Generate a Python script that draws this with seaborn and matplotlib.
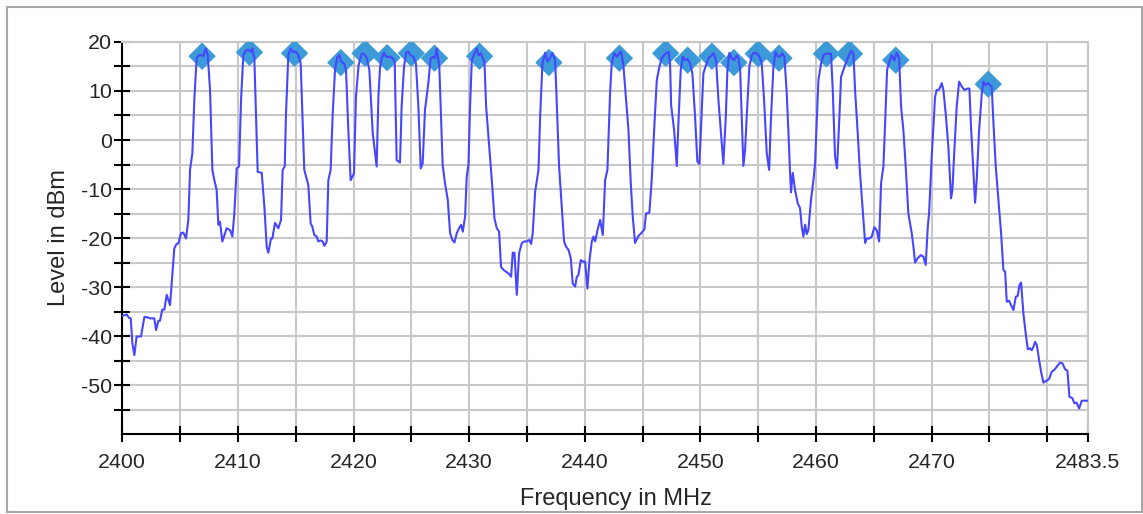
import matplotlib
matplotlib.use("Agg")
import matplotlib.pyplot as plt
import seaborn as sns
import pandas as pd
from matplotlib.ticker import FixedLocator
from matplotlib.patches import Rectangle

# Spectrum trace: frequency (MHz) and measured level (dBm)
freq_mhz = [
    2400.0, 2400.38, 2400.58, 2400.73, 2400.87, 2401.04, 2401.24, 2401.62, 2401.91, 2402.2,
    2402.4, 2402.77, 2402.92, 2403.12, 2403.26, 2403.46, 2403.64, 2403.84, 2404.13, 2404.5,
    2404.7, 2404.85, 2405.08, 2405.28, 2405.51, 2405.71, 2405.86, 2406.06, 2406.23, 2406.43,
    2406.64, 2406.81, 2407.01, 2407.21, 2407.39, 2407.59, 2407.79, 2407.96, 2408.16, 2408.31,
    2408.45, 2408.65, 2409.03, 2409.32, 2409.52, 2409.69, 2409.89, 2410.1, 2410.27, 2410.47,
    2410.67, 2410.9, 2411.13, 2411.25, 2411.42, 2411.71, 2412.06, 2412.29, 2412.49, 2412.63,
    2412.86, 2412.98, 2413.21, 2413.5, 2413.73, 2413.87, 2414.05, 2414.16, 2414.36, 2414.56,
    2414.74, 2415.02, 2415.23, 2415.43, 2415.6, 2415.74, 2416.09, 2416.29, 2416.44, 2416.61,
    2416.81, 2416.96, 2417.16, 2417.33, 2417.48, 2417.68, 2417.82, 2418.02, 2418.2, 2418.4,
    2418.6, 2418.77, 2418.92, 2419.18, 2419.35, 2419.55, 2419.75, 2420.04, 2420.21, 2420.44,
    2420.7, 2420.91, 2421.14, 2421.37, 2421.66, 2421.83, 2422.0, 2422.15, 2422.29, 2422.43,
    2422.64, 2422.81, 2423.1, 2423.39, 2423.56, 2423.73, 2424.02, 2424.16, 2424.37, 2424.54,
    2424.74, 2424.94, 2425.17, 2425.4, 2425.61, 2425.81, 2425.98, 2426.18, 2426.47, 2426.67,
    2426.9, 2427.05, 2427.19, 2427.42, 2427.71, 2427.91, 2428.15, 2428.35, 2428.55, 2428.73,
    2428.93, 2429.13, 2429.3, 2429.45, 2429.65, 2429.79, 2429.94, 2430.08, 2430.23, 2430.46,
    2430.66, 2430.8, 2431.01, 2431.18, 2431.32, 2431.47, 2431.67, 2431.96, 2432.19, 2432.39,
    2432.59, 2432.76, 2432.97, 2433.2, 2433.4, 2433.63, 2433.77, 2433.92, 2434.12, 2434.32,
    2434.55, 2434.75, 2434.98, 2435.19, 2435.36, 2435.5, 2435.71, 2436.0, 2436.14, 2436.34,
    2436.57, 2436.77, 2437.0, 2437.2, 2437.44, 2437.64, 2437.78, 2438.01, 2438.21, 2438.39,
    2438.59, 2438.79, 2438.96, 2439.17, 2439.31, 2439.45, 2439.66, 2439.83, 2440.03, 2440.23,
    2440.41, 2440.61, 2440.75, 2440.9, 2441.1, 2441.33, 2441.56, 2441.76, 2441.96, 2442.19,
    2442.33, 2442.54, 2442.77, 2443.0, 2443.14, 2443.34, 2443.57, 2443.78, 2443.98, 2444.15,
    2444.35, 2444.64, 2444.93, 2445.16, 2445.3, 2445.59, 2445.79, 2446.0, 2446.23, 2446.46,
    2446.66, 2446.86, 2447.03, 2447.24, 2447.38, 2447.47, 2447.73, 2447.96, 2448.1, 2448.3,
    2448.48, 2448.68, 2448.88, 2449.11, 2449.31, 2449.54, 2449.74, 2449.92, 2450.12, 2450.26,
    2450.49, 2450.7, 2450.9, 2451.13, 2451.36, 2451.56, 2451.76, 2451.99, 2452.2, 2452.34,
    2452.51, 2452.71, 2452.92, 2453.15, 2453.29, 2453.44, 2453.58, 2453.72, 2453.87, 2454.01,
    2454.24, 2454.45, 2454.65, 2454.88, 2455.11, 2455.31, 2455.51, 2455.74, 2455.95, 2456.09,
    2456.32, 2456.5, 2456.69, 2456.89, 2457.09, 2457.27, 2457.47, 2457.61, 2457.76, 2457.84,
    2457.99, 2458.19, 2458.42, 2458.62, 2458.77, 2458.91, 2459.06, 2459.2, 2459.34, 2459.57,
    2459.78, 2459.92, 2460.06, 2460.21, 2460.44, 2460.64, 2460.84, 2461.07, 2461.3, 2461.45,
    2461.65, 2461.82, 2462.0, 2462.17, 2462.37, 2462.57, 2462.8, 2463.03, 2463.24, 2463.38,
    2463.61, 2463.81, 2463.96, 2464.1, 2464.25, 2464.39, 2464.62, 2464.82, 2465.05, 2465.25,
    2465.46, 2465.63, 2465.83, 2465.98, 2466.15, 2466.35, 2466.55, 2466.78, 2466.98, 2467.19,
    2467.36, 2467.56, 2467.76, 2467.99, 2468.28, 2468.43, 2468.57, 2468.8, 2469.06, 2469.29,
    2469.49, 2469.67, 2469.78, 2470.01, 2470.3, 2470.44, 2470.65, 2470.88, 2471.02, 2471.22,
    2471.45, 2471.68, 2471.8, 2471.97, 2472.17, 2472.38, 2472.61, 2472.84, 2473.1, 2473.27,
    2473.41, 2473.62, 2473.76, 2473.9, 2474.11, 2474.34, 2474.48, 2474.63, 2474.86, 2475.06,
    2475.2, 2475.35, 2475.55, 2475.78, 2476.01, 2476.21, 2476.36, 2476.5, 2476.7, 2476.87,
    2477.08, 2477.28, 2477.45, 2477.6, 2477.74, 2477.94, 2478.14, 2478.32, 2478.52, 2478.66,
    2478.81, 2478.95, 2479.1, 2479.3, 2479.47, 2479.67, 2479.96, 2480.16, 2480.39, 2480.62,
    2480.82, 2481.11, 2481.32, 2481.55, 2481.75, 2481.92, 2482.18, 2482.35, 2482.55, 2482.76,
    2482.99, 2483.22, 2483.5,
]
level_dbm = [
    -35.9, -35.6, -36.3, -36.4, -41.5, -43.9, -40.1, -40.1, -36.1, -36.2,
    -36.4, -36.4, -38.8, -36.9, -36.9, -34.6, -34.6, -31.6, -33.7, -22.1,
    -21.2, -21.1, -19.0, -18.9, -20.1, -16.3, -6.1, -2.7, 8.2, 16.7,
    17.3, 17.3, 17.1, 18.7, 17.3, 10.2, -6.1, -8.2, -10.2, -17.3,
    -16.7, -20.7, -18.0, -18.4, -19.7, -15.0, -5.8, -5.4, 8.2, 17.3,
    18.2, 18.4, 18.0, 18.7, 16.7, -6.5, -6.7, -13.6, -21.8, -23.0,
    -20.1, -20.1, -16.9, -18.0, -16.3, -6.1, -5.4, 5.4, 17.3, 18.7,
    18.0, 18.0, 17.3, 15.6, 3.4, -6.1, -9.2, -17.0, -17.7, -19.4,
    -19.7, -20.7, -20.5, -20.7, -21.6, -20.7, -8.2, -6.1, 5.4, 14.3,
    17.0, 17.3, 16.0, 15.6, 14.3, 2.0, -8.2, -6.8, 8.8, 15.3,
    17.6, 17.6, 16.7, 14.3, 1.4, -2.0, -5.4, 8.8, 14.7, 16.7,
    17.8, 17.0, 17.0, 16.7, 16.0, -4.1, -4.6, 6.8, 15.0, 17.8,
    18.0, 17.3, 17.0, 15.6, 6.8, -5.8, -4.8, 6.1, 11.6, 16.7,
    17.0, 16.7, 18.7, 15.0, -5.1, -8.8, -12.2, -19.0, -20.4, -20.9,
    -19.0, -18.0, -17.3, -18.7, -15.6, -7.5, -5.1, 6.8, 16.3, 17.7,
    18.7, 17.3, 17.7, 16.7, 16.0, 6.8, 0.7, -8.2, -16.0, -18.0,
    -18.7, -25.9, -26.5, -26.9, -27.2, -27.9, -23.0, -23.0, -31.6, -23.1,
    -21.1, -20.7, -20.7, -20.4, -21.2, -19.0, -10.5, -6.1, 4.8, 15.6,
    17.8, 16.0, 16.7, 17.8, 16.3, 3.4, -5.4, -13.6, -20.7, -21.8,
    -22.4, -24.1, -29.3, -29.9, -27.9, -27.6, -24.5, -24.8, -24.8, -30.3,
    -24.5, -20.7, -19.7, -20.7, -18.4, -16.3, -19.4, -8.2, -6.1, 9.5,
    15.6, 17.7, 17.0, 17.8, 18.0, 15.3, 8.2, 2.0, -8.8, -15.6,
    -21.0, -19.6, -18.9, -18.2, -15.0, -14.8, -8.2, 2.0, 12.2, 15.0,
    16.7, 17.3, 17.7, 18.0, 15.6, 7.1, 2.0, -5.3, 3.4, 14.3,
    17.0, 16.3, 16.5, 15.6, 13.6, 4.8, -4.4, -4.9, 6.1, 13.6,
    15.3, 16.7, 17.1, 17.7, 16.3, 8.2, 2.0, -4.9, 4.8, 14.3,
    17.8, 16.7, 16.3, 17.3, 16.7, 14.3, 4.8, -5.3, -2.0, 4.8,
    15.0, 17.3, 17.8, 17.7, 17.0, 15.6, 8.2, -2.7, -6.1, 3.4,
    15.0, 18.0, 17.1, 17.0, 17.7, 17.0, 9.5, 2.0, -6.8, -10.7,
    -6.7, -10.2, -12.9, -13.9, -17.7, -19.7, -17.3, -19.2, -18.4, -12.2,
    -8.2, -4.8, 3.4, 12.2, 15.6, 17.3, 17.6, 17.6, 17.6, 10.2,
    -3.4, -5.8, 3.4, 12.9, 14.3, 15.6, 17.0, 18.2, 17.7, 10.2,
    1.4, -6.8, -11.6, -16.0, -21.0, -20.1, -20.1, -19.7, -17.8, -18.4,
    -20.7, -8.8, -5.4, 3.4, 14.3, 16.0, 17.3, 16.2, 17.8, 16.7,
    6.8, 2.0, -5.4, -15.0, -19.0, -21.8, -25.0, -24.1, -23.5, -23.8,
    -25.5, -17.7, -15.0, -3.4, 8.8, 10.2, 10.3, 11.6, 10.2, 5.4,
    -1.4, -11.9, -10.2, -2.0, 6.8, 11.9, 10.9, 10.2, 10.5, 10.5,
    2.7, -6.8, -12.8, -8.2, 2.0, 9.5, 11.9, 11.2, 11.6, 11.2,
    10.9, 3.4, -5.4, -12.2, -19.0, -26.5, -26.9, -33.0, -32.8, -33.7,
    -34.7, -32.0, -31.8, -29.6, -29.1, -35.4, -39.5, -42.7, -42.5, -42.9,
    -42.2, -41.2, -41.8, -44.9, -47.3, -49.5, -49.1, -48.8, -47.3, -46.9,
    -46.3, -45.4, -45.6, -46.8, -47.1, -52.4, -52.7, -53.7, -53.6, -54.8,
    -53.2, -53.2, -53.2,
]

# Detected channel peaks
peak_mhz = [2406.9, 2411.0, 2414.9, 2418.9, 2421.0, 2422.9, 2425.0, 2427.0, 2430.9, 2436.9,
            2443.0, 2447.0, 2448.9, 2451.0, 2452.9, 2455.0, 2456.8, 2460.9, 2462.9, 2466.9,
            2474.9]
peak_dbm = [17.1, 17.9, 17.7, 15.8, 17.7, 16.8, 17.7, 16.7, 17.1, 15.8,
            16.7, 17.7, 16.3, 17.1, 15.8, 17.6, 16.7, 17.6, 17.6, 16.3,
            11.4]

# Axis ticks
x_ticks = [2400, 2405, 2410, 2415, 2420, 2425, 2430, 2435, 2440, 2445, 2450, 2455,
           2460, 2465, 2470, 2475, 2480, 2483.5]
x_tick_labels = ["2400", "", "2410", "", "2420", "", "2430", "", "2440", "", "2450", "",
                 "2460", "", "2470", "", "", "2483.5"]
y_major = [-50, -40, -30, -20, -10, 0, 10, 20]
y_minor = [-55, -45, -35, -25, -15, -5, 5, 15]

sns.set_theme(style="white")
plt.rcParams["font.family"] = ["Liberation Sans", "DejaVu Sans"]
plt.rcParams["axes.unicode_minus"] = False

fig = plt.figure(figsize=(11.43, 5.14), dpi=100)
ax = fig.add_axes([0.1070, 0.1556, 0.8446, 0.7627])

trace = pd.DataFrame({"Frequency": freq_mhz, "Level": level_dbm})
peaks = pd.DataFrame({"Frequency": peak_mhz, "Level": peak_dbm})

sns.scatterplot(data=peaks, x="Frequency", y="Level", marker="D", s=195,
                color="#3d9ad8", edgecolor="none", linewidth=0, zorder=3, ax=ax)
sns.lineplot(data=trace, x="Frequency", y="Level", estimator=None, sort=False,
             color="#4646ff", linewidth=1.5, zorder=4, ax=ax, legend=False)

ax.set_xlim(2400, 2483.5)
ax.set_ylim(-60, 20)
ax.set_xticks(x_ticks)
ax.set_xticklabels(x_tick_labels)
ax.yaxis.set_major_locator(FixedLocator(y_major))
ax.yaxis.set_minor_locator(FixedLocator(y_minor))

ax.set_axisbelow(True)
ax.grid(True, which="major", color="#c8c8c8", linewidth=1.5)
ax.yaxis.grid(True, which="minor", color="#c8c8c8", linewidth=1.5)

for side in ("left", "bottom"):
    ax.spines[side].set_color("black")
    ax.spines[side].set_linewidth(1.5)
for side in ("top", "right"):
    ax.spines[side].set_color("#c8c8c8")
    ax.spines[side].set_linewidth(1.5)

ax.tick_params(axis="y", which="both", direction="inout", length=12, width=1.5,
               color="black", labelsize=15.4, pad=1.5, left=True)
ax.tick_params(axis="x", which="both", direction="inout", length=11, width=1.5,
               color="black", labelsize=15.4, pad=8, bottom=True)

ax.set_xlabel("Frequency in MHz", fontsize=17)
ax.set_ylabel("Level in dBm", fontsize=17)
ax.xaxis.set_label_coords(0.511, -0.138)
ax.yaxis.set_label_coords(-0.054, 0.5)

fig.add_artist(Rectangle((7 / 1143, 2 / 514), 1135 / 1143, 505 / 514,
                         transform=fig.transFigure, fill=False,
                         edgecolor="#a8a8a8", linewidth=1.5))

fig.savefig("out.png", dpi=100)
